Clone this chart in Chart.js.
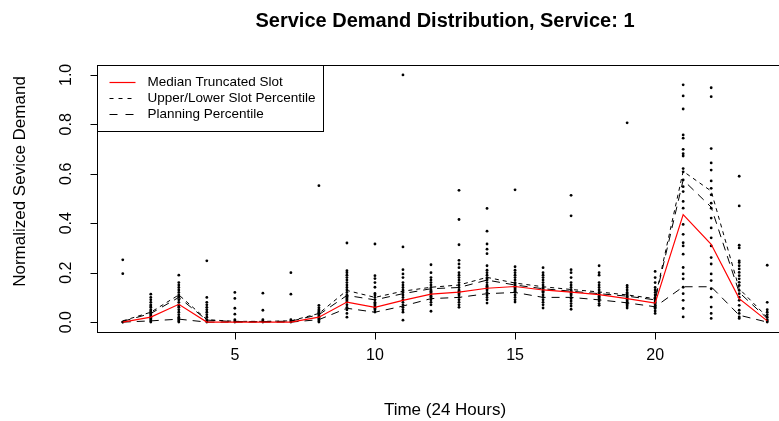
<!DOCTYPE html>
<html>
<head>
<meta charset="utf-8">
<script src="https://cdn.jsdelivr.net/npm/chart.js@4.4.1/dist/chart.umd.min.js"></script>
<style>
  html, body { margin: 0; padding: 0; background: #fff; overflow: hidden; }
  #wrap { width: 779px; height: 421px; overflow: hidden; }
  canvas { display: block; }
</style>
</head>
<body>
<div id="wrap"><canvas id="c" width="800" height="421"></canvas></div>
<script>
// Hours of the day
const hours = [1,2,3,4,5,6,7,8,9,10,11,12,13,14,15,16,17,18,19,20,21,22,23,24];

// Observed normalized demand samples for each hour
const obs1  = [0, 0, 0.196, 0.252];
const obs2  = [0, 0.005, 0.01, 0.015, 0.02, 0.025, 0.03, 0.035, 0.04, 0.045, 0.05, 0.06, 0.065, 0.07, 0.08, 0.09, 0.1, 0.113];
const obs3  = [0, 0.005, 0.01, 0.015, 0.02, 0.03, 0.04, 0.05, 0.06, 0.065, 0.07, 0.08, 0.09, 0.1, 0.105, 0.11, 0.12, 0.13, 0.14, 0.15, 0.16, 0.19];
const obs4  = [0, 0.005, 0.01, 0.02, 0.03, 0.04, 0.05, 0.06, 0.07, 0.08, 0.1, 0.248];
const obs5  = [0, 0.005, 0.01, 0.032, 0.056, 0.096, 0.12];
const obs6  = [0, 0.005, 0.01, 0.048, 0.117];
const obs7  = [0, 0.005, 0.01, 0.113, 0.2];
const obs8  = [0, 0.005, 0.01, 0.015, 0.02, 0.025, 0.03, 0.035, 0.04, 0.045, 0.05, 0.058, 0.068, 0.552];
const obs9  = [0.02, 0.035, 0.05, 0.06, 0.07, 0.08, 0.085, 0.09, 0.095, 0.1, 0.105, 0.11, 0.12, 0.13, 0.14, 0.15, 0.16, 0.17, 0.18, 0.19, 0.2, 0.208, 0.32];
const obs10 = [0.041, 0.05, 0.055, 0.06, 0.065, 0.07, 0.075, 0.08, 0.09, 0.1, 0.11, 0.116, 0.141, 0.16, 0.176, 0.188, 0.316];
const obs11 = [0.008, 0.04, 0.05, 0.06, 0.07, 0.08, 0.09, 0.1, 0.11, 0.12, 0.13, 0.14, 0.15, 0.16, 0.18, 0.195, 0.212, 0.304, 1.0];
const obs12 = [0.044, 0.07, 0.08, 0.09, 0.1, 0.105, 0.11, 0.115, 0.12, 0.125, 0.13, 0.14, 0.15, 0.16, 0.17, 0.18, 0.2, 0.232];
const obs13 = [0.06, 0.07, 0.08, 0.09, 0.1, 0.11, 0.115, 0.12, 0.125, 0.13, 0.14, 0.15, 0.16, 0.17, 0.18, 0.19, 0.2, 0.22, 0.235, 0.25, 0.313, 0.415, 0.533];
const obs14 = [0.077, 0.09, 0.1, 0.11, 0.12, 0.13, 0.135, 0.14, 0.145, 0.15, 0.16, 0.17, 0.175, 0.18, 0.19, 0.2, 0.21, 0.228, 0.277, 0.295, 0.316, 0.368, 0.46];
const obs15 = [0.081, 0.09, 0.1, 0.11, 0.12, 0.125, 0.13, 0.135, 0.14, 0.145, 0.15, 0.155, 0.16, 0.17, 0.18, 0.19, 0.2, 0.21, 0.224, 0.535];
const obs16 = [0.057, 0.07, 0.08, 0.09, 0.1, 0.11, 0.12, 0.125, 0.13, 0.135, 0.14, 0.15, 0.16, 0.17, 0.18, 0.19, 0.2, 0.22];
const obs17 = [0.052, 0.065, 0.075, 0.085, 0.095, 0.1, 0.11, 0.115, 0.12, 0.125, 0.13, 0.14, 0.15, 0.16, 0.18, 0.2, 0.212, 0.43, 0.513];
const obs18 = [0.068, 0.075, 0.085, 0.09, 0.095, 0.1, 0.105, 0.11, 0.115, 0.12, 0.13, 0.14, 0.15, 0.16, 0.19, 0.2, 0.228];
const obs19 = [0.057, 0.065, 0.07, 0.075, 0.08, 0.085, 0.09, 0.095, 0.1, 0.105, 0.11, 0.115, 0.12, 0.13, 0.14, 0.148, 0.806];
const obs20 = [0.035, 0.045, 0.055, 0.06, 0.065, 0.07, 0.075, 0.08, 0.085, 0.09, 0.095, 0.1, 0.11, 0.12, 0.13, 0.14, 0.16, 0.18, 0.205];
const obs21 = [0.021, 0.055, 0.088, 0.115, 0.141, 0.175, 0.195, 0.221, 0.275, 0.308, 0.321, 0.355, 0.395, 0.461, 0.488, 0.528, 0.548, 0.575, 0.608, 0.621, 0.672, 0.681, 0.699, 0.744, 0.757, 0.862, 0.915, 0.96];
const obs22 = [0.015, 0.035, 0.061, 0.101, 0.135, 0.168, 0.195, 0.235, 0.261, 0.308, 0.341, 0.381, 0.421, 0.461, 0.481, 0.515, 0.541, 0.571, 0.615, 0.644, 0.702, 0.912, 0.948];
const obs23 = [0.015, 0.021, 0.035, 0.048, 0.068, 0.088, 0.101, 0.115, 0.128, 0.148, 0.161, 0.175, 0.188, 0.201, 0.215, 0.228, 0.241, 0.248, 0.3, 0.311, 0.47, 0.59];
const obs24 = [0, 0.005, 0.01, 0.02, 0.03, 0.04, 0.05, 0.08, 0.23];

// Summary curves per hour
const medianSlot = [0, 0.02, 0.072, 0, 0, 0, 0, 0.02, 0.081, 0.06, 0.088, 0.113, 0.121, 0.137, 0.144, 0.13, 0.121, 0.111, 0.095, 0.077, 0.435, 0.315, 0.095, 0.005];
const upperSlot  = [0.005, 0.04, 0.11, 0.01, 0.003, 0.003, 0.005, 0.035, 0.128, 0.1, 0.125, 0.141, 0.15, 0.181, 0.158, 0.143, 0.132, 0.122, 0.11, 0.095, 0.61, 0.53, 0.135, 0.02];
const planning   = [0.003, 0.035, 0.1, 0.008, 0.002, 0.002, 0.004, 0.03, 0.108, 0.09, 0.115, 0.135, 0.14, 0.17, 0.15, 0.135, 0.125, 0.115, 0.105, 0.09, 0.575, 0.465, 0.12, 0.015];
const lowerSlot  = [0, 0.005, 0.012, 0, 0, 0, 0, 0.01, 0.056, 0.04, 0.065, 0.095, 0.1, 0.115, 0.12, 0.1, 0.1, 0.09, 0.078, 0.062, 0.143, 0.143, 0.028, 0];

// Axis tick values
const xTicks = [5, 10, 15, 20];
const yTicks = [0, 0.2, 0.4, 0.6, 0.8, 1.0];
const yTickLabels = ['0.0', '0.2', '0.4', '0.6', '0.8', '1.0'];

const observations = [obs1, obs2, obs3, obs4, obs5, obs6, obs7, obs8, obs9, obs10, obs11, obs12,
  obs13, obs14, obs15, obs16, obs17, obs18, obs19, obs20, obs21, obs22, obs23, obs24];

const scatterPoints = [];
observations.forEach((arr, i) => arr.forEach(v => scatterPoints.push({ x: hours[i], y: v })));
const toXY = arr => arr.map((v, i) => ({ x: hours[i], y: v }));

const FONT = '"Liberation Sans", Arial, Helvetica, sans-serif';

// R-style frame, axes, titles and legend
const frame = {
  id: 'frame',
  afterDraw(chart) {
    const { ctx, chartArea: a, scales: { x, y } } = chart;
    ctx.save();
    ctx.strokeStyle = '#000';
    ctx.fillStyle = '#000';
    ctx.lineWidth = 1;
    // plot box
    ctx.strokeRect(Math.round(a.left) + 0.5, Math.round(a.top) + 0.5, Math.round(a.right - a.left), Math.round(a.bottom - a.top));

    // x axis
    const yb = Math.round(a.bottom) + 0.5;
    ctx.beginPath();
    ctx.moveTo(x.getPixelForValue(xTicks[0]), yb);
    ctx.lineTo(x.getPixelForValue(xTicks[xTicks.length - 1]), yb);
    xTicks.forEach(t => {
      const px = Math.round(x.getPixelForValue(t)) + 0.5;
      ctx.moveTo(px, yb);
      ctx.lineTo(px, yb + 7);
    });
    ctx.stroke();
    ctx.font = '16px ' + FONT;
    ctx.textAlign = 'center';
    ctx.textBaseline = 'middle';
    xTicks.forEach(t => ctx.fillText(String(t), x.getPixelForValue(t), 356));

    // y axis
    const xl = Math.round(a.left) + 0.5;
    ctx.beginPath();
    ctx.moveTo(xl, y.getPixelForValue(yTicks[0]));
    ctx.lineTo(xl, y.getPixelForValue(yTicks[yTicks.length - 1]));
    yTicks.forEach(t => {
      const py = Math.round(y.getPixelForValue(t)) + 0.5;
      ctx.moveTo(xl, py);
      ctx.lineTo(xl - 7, py);
    });
    ctx.stroke();
    yTicks.forEach((t, i) => {
      ctx.save();
      ctx.translate(67, y.getPixelForValue(t));
      ctx.rotate(-Math.PI / 2);
      ctx.fillText(yTickLabels[i], 0, 0);
      ctx.restore();
    });

    // axis titles
    ctx.font = '17px ' + FONT;
    ctx.fillText('Time (24 Hours)', (a.left + a.right) / 2, 410);
    ctx.save();
    ctx.translate(20, (a.top + a.bottom) / 2 - 17);
    ctx.rotate(-Math.PI / 2);
    ctx.fillText('Normalized Sevice Demand', 0, 0);
    ctx.restore();

    // main title
    ctx.font = 'bold 20px ' + FONT;
    ctx.fillText('Service Demand Distribution, Service: 1', (a.left + a.right) / 2, 21);

    // legend
    const lx = Math.round(a.left) + 0.5, ly = Math.round(a.top) + 0.5;
    ctx.fillStyle = '#fff';
    ctx.fillRect(lx, ly, 226, 66);
    ctx.strokeStyle = '#000';
    ctx.strokeRect(lx, ly, 226, 66);
    const items = chart.data.datasets.filter(d => d.legendLabel);
    ctx.font = '13.5px ' + FONT;
    ctx.textAlign = 'left';
    items.forEach((d, i) => {
      const ry = ly + 17 + i * 16;
      ctx.beginPath();
      ctx.strokeStyle = d.borderColor;
      ctx.lineWidth = d.borderWidth;
      ctx.setLineDash(d.borderDash || []);
      ctx.moveTo(lx + 12, ry);
      ctx.lineTo(lx + 38, ry);
      ctx.stroke();
      ctx.setLineDash([]);
      ctx.fillStyle = '#000';
      ctx.fillText(d.legendLabel, lx + 50, ry);
    });
    ctx.restore();
  }
};

new Chart(document.getElementById('c'), {
  data: {
    datasets: [
      { type: 'scatter', data: scatterPoints, pointRadius: 1.4, pointBackgroundColor: '#000', pointBorderWidth: 0, order: 5 },
      { type: 'line', data: toXY(upperSlot), borderColor: '#000', borderWidth: 1, borderDash: [4, 4], pointRadius: 0, order: 3 },
      { type: 'line', data: toXY(planning), borderColor: '#000', borderWidth: 1, borderDash: [8, 6], pointRadius: 0, order: 3 },
      { type: 'line', data: toXY(lowerSlot), borderColor: '#000', borderWidth: 1, borderDash: [8, 6], pointRadius: 0, order: 3 },
      { type: 'line', data: toXY(medianSlot), borderColor: '#ff0000', borderWidth: 1.2, pointRadius: 0, order: 1 },
      // legend-only entries
      { type: 'line', data: [], legendLabel: 'Median Truncated Slot', borderColor: '#ff0000', borderWidth: 1.2 },
      { type: 'line', data: [], legendLabel: 'Upper/Lower Slot Percentile', borderColor: '#000', borderWidth: 1, borderDash: [4, 5] },
      { type: 'line', data: [], legendLabel: 'Planning Percentile', borderColor: '#000', borderWidth: 1, borderDash: [8, 8] }
    ]
  },
  options: {
    responsive: false,
    animation: false,
    devicePixelRatio: 1,
    layout: { padding: { top: 65, right: 7, left: 0, bottom: 0 } },
    plugins: { legend: { display: false }, tooltip: { enabled: false }, title: { display: false } },
    scales: {
      x: {
        type: 'linear', min: 0.08, max: 24.92,
        grid: { display: false }, border: { display: false }, ticks: { display: false },
        afterFit: s => { s.height = 89; }
      },
      y: {
        type: 'linear', min: -0.04, max: 1.04,
        grid: { display: false }, border: { display: false }, ticks: { display: false },
        afterFit: s => { s.width = 97; }
      }
    }
  },
  plugins: [frame]
});
</script>
</body>
</html>
